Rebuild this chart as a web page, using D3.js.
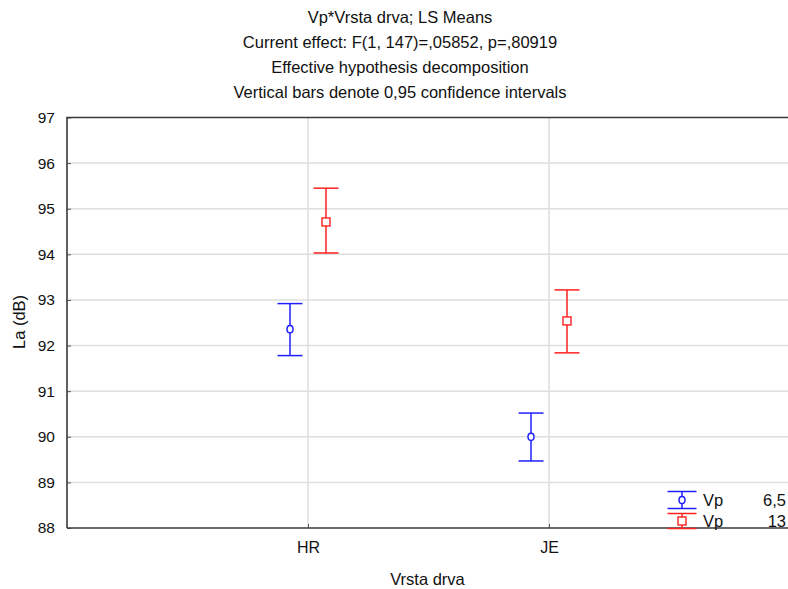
<!DOCTYPE html>
<html><head><meta charset="utf-8">
<script src="https://cdn.jsdelivr.net/npm/d3@7/dist/d3.min.js"></script>
<style>
html,body{margin:0;padding:0;background:#fff;}
svg{display:block;font-family:"Liberation Sans",Arial,sans-serif;}
</style></head>
<body><svg id="c" width="788" height="589"></svg>
<script>
const titleLines = ["Vp*Vrsta drva; LS Means","Current effect: F(1, 147)=,05852, p=,80919","Effective hypothesis decomposition","Vertical bars denote 0,95 confidence intervals"];
const categories = ["HR","JE"];
const seriesNames = ["6,5","13"];
const seriesColors = ["#1f1fff","#ff2020"];
const means65 = [92.36, 90.00];
const lower65 = [91.78, 89.47];
const upper65 = [92.92, 90.52];
const means13 = [94.71, 92.54];
const lower13 = [94.03, 91.84];
const upper13 = [95.45, 93.22];
const yTicks = [88,89,90,91,92,93,94,95,96,97];
const xTitle = "Vrsta drva", yTitle = "La (dB)", legendVar = "Vp";

const series = [
  {name: seriesNames[0], color: seriesColors[0], shape:"circle", mean: means65, lo: lower65, hi: upper65},
  {name: seriesNames[1], color: seriesColors[1], shape:"square", mean: means13, lo: lower13, hi: upper13}
];

const svg = d3.select("#c");
const L = 67, R = 790, T = 117.5, B = 528;
const TXT = "#111";
const x = d3.scalePoint().domain(categories).range([L, R]).padding(1);
const off = d3.scalePoint().domain(seriesNames).range([-18, 18]);
const y = d3.scaleLinear().domain([88, 97]).range([B, T]);

// title
svg.append("g").selectAll("text").data(titleLines).join("text")
  .attr("x", 400).attr("y", 23).attr("dy", (d,i)=>i*25).attr("text-anchor","middle")
  .style("font-size","16.5px").attr("fill",TXT).text(d=>d);

// grid
const grid = svg.append("g");
grid.selectAll("line.h").data(yTicks.filter(t=>t>88 && t<97)).join("line")
  .attr("x1", L).attr("x2", 788).attr("y1", d=>y(d)).attr("y2", d=>y(d))
  .attr("stroke","#dedede").attr("stroke-width",1.5);
grid.selectAll("line.v").data(categories).join("line")
  .attr("x1", d=>x(d)).attr("x2", d=>x(d)).attr("y1", T).attr("y2", B)
  .attr("stroke","#dedede").attr("stroke-width",1.5);

// axes
const yAxis = d3.axisLeft(y).tickValues(yTicks).tickSize(-4).tickPadding(12).tickFormat(d3.format("d"));
const gy = svg.append("g").attr("transform",`translate(${L},0)`).call(yAxis);
gy.select(".domain").remove();
gy.selectAll(".tick line").attr("stroke","#555");
gy.selectAll("text").style("font-size","15.5px").attr("fill",TXT).attr("font-family","Liberation Sans, Arial");

const xAxis = d3.axisBottom(x).tickSize(-4).tickPadding(14);
const gx = svg.append("g").attr("transform",`translate(0,${B})`).call(xAxis);
gx.select(".domain").remove();
gx.selectAll(".tick line").attr("stroke","#555");
gx.selectAll("text").style("font-size","16px").attr("fill",TXT).attr("font-family","Liberation Sans, Arial");

// frame: left, top, bottom
svg.append("path").attr("d",`M${L},${B} V${T} H788 M${L},${B} H788`)
  .attr("fill","none").attr("stroke","#3a3a3a").attr("stroke-width",1.6);

// axis titles
svg.append("text").attr("x", 427.5).attr("y", 585).attr("text-anchor","middle")
  .style("font-size","16.5px").attr("fill",TXT).text(xTitle);
svg.append("text").attr("transform","translate(25,322) rotate(-90)").attr("text-anchor","middle")
  .style("font-size","16.5px").attr("fill",TXT).text(yTitle);

// error bars
const cap = 12.5;
function drawMarker(g, s, cx, cy) {
  if (s.shape === "circle") {
    g.append("ellipse").attr("cx",cx).attr("cy",cy).attr("rx",3).attr("ry",3.6)
      .attr("fill","#fff").attr("stroke",s.color).attr("stroke-width",1.5);
  } else {
    g.append("rect").attr("x",cx-4).attr("y",cy-4).attr("width",8).attr("height",8)
      .attr("fill","#fff").attr("stroke",s.color).attr("stroke-width",1.4);
  }
}
series.forEach(s => {
  const g = svg.append("g");
  categories.forEach((c,i) => {
    const cx = x(c) + off(s.name);
    g.append("line").attr("x1",cx).attr("x2",cx).attr("y1",y(s.hi[i])).attr("y2",y(s.lo[i]))
      .attr("stroke",s.color).attr("stroke-width",1.5);
    [s.hi[i], s.lo[i]].forEach(v => g.append("line").attr("x1",cx-cap).attr("x2",cx+cap)
      .attr("y1",y(v)).attr("y2",y(v)).attr("stroke",s.color).attr("stroke-width",1.5));
    drawMarker(g, s, cx, y(s.mean[i]));
  });
});

// legend
const lg = svg.append("g");
const legY = [500, 521];
const legHalf = [8.5, 7.5];
series.forEach((s,i) => {
  const cx = 682, cy = legY[i], h = legHalf[i];
  lg.append("line").attr("x1",cx).attr("x2",cx).attr("y1",cy-h).attr("y2",cy+h).attr("stroke",s.color).attr("stroke-width",1.5);
  [cy-h, cy+h].forEach(v => lg.append("line").attr("x1",cx-14.5).attr("x2",cx+14.5).attr("y1",v).attr("y2",v).attr("stroke",s.color).attr("stroke-width",1.5));
  drawMarker(lg, s, cx, cy);
  lg.append("text").attr("x",703).attr("y",cy+6).style("font-size","16.5px").attr("fill",TXT).text(legendVar);
  lg.append("text").attr("x",786).attr("y",cy+6).attr("text-anchor","end").style("font-size","16.5px").attr("fill",TXT).text(s.name);
});
</script></body></html>
